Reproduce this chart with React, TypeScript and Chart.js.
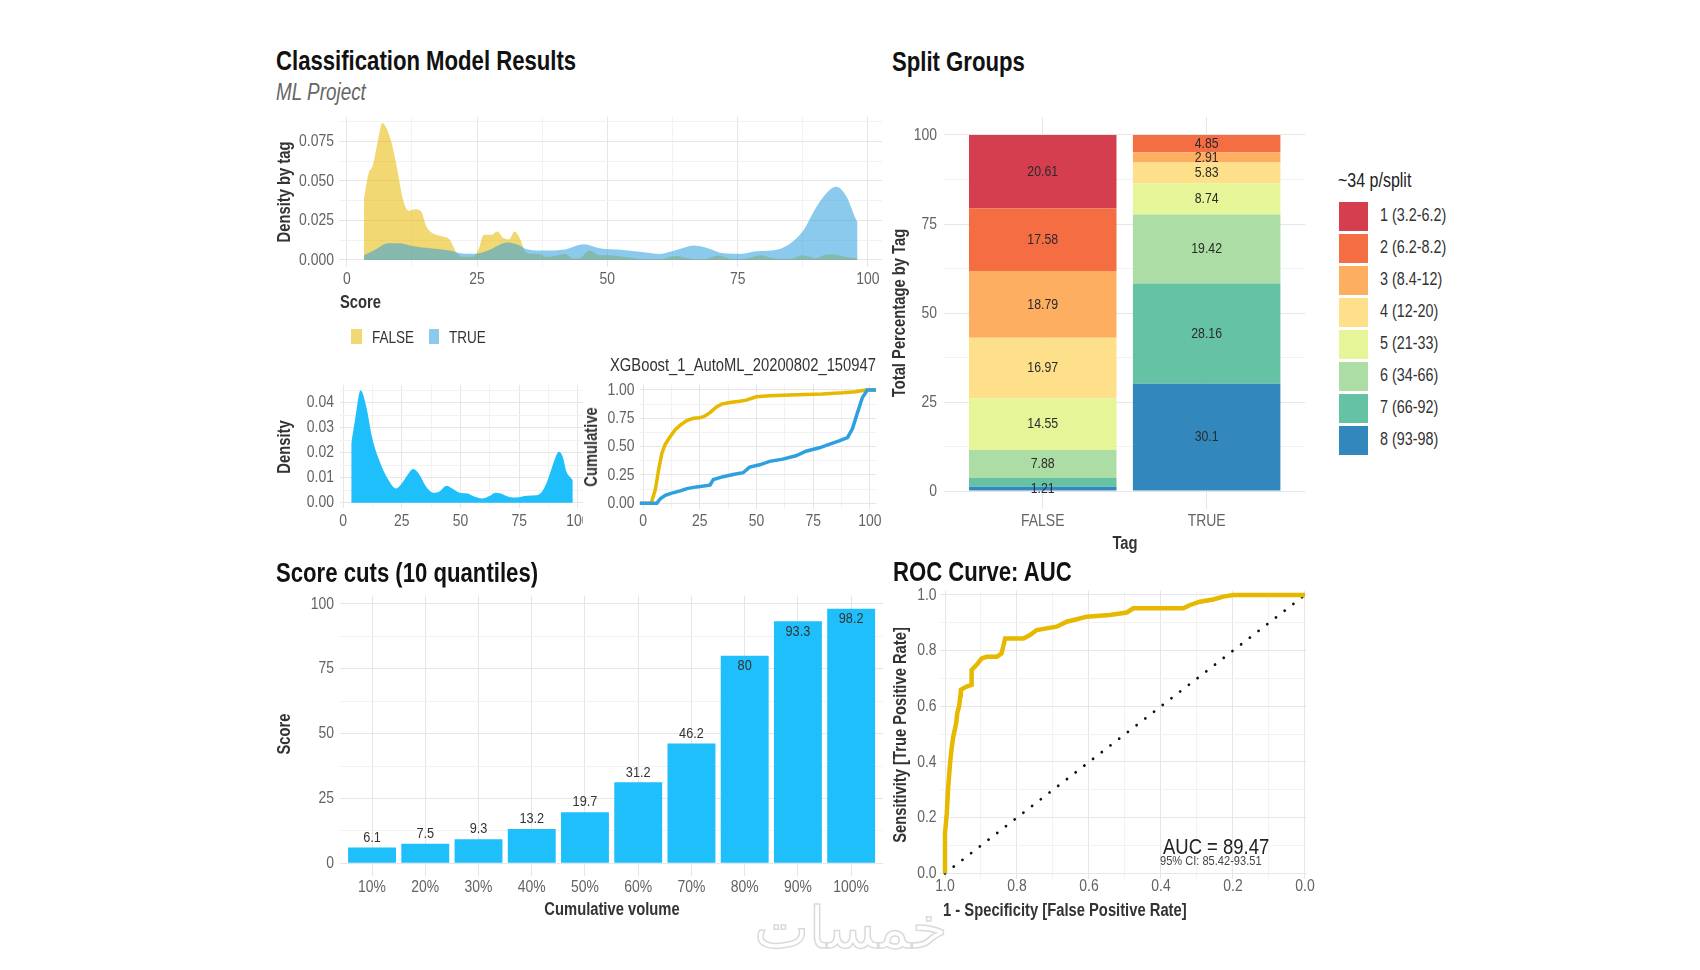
import React, { useEffect, useRef } from 'react';
import { Chart, registerables } from 'chart.js';

Chart.register(...registerables);

// Arial-metric font, horizontally condensed to mimic "Arial Narrow"
const FONT = "'Liberation Sans', Arial, sans-serif";
const SQ = 0.82;
const TICK_COLOR = '#636363';
const TICK_SIZE = 17;
const AXIS_TITLE = '#333333';
const GRID_MAJOR = '#e6e6e6';
const GRID_MINOR = '#f2f2f2';

// ---------- data ----------
const densityFalseX = [3.3, 4.2, 4.9, 6.0, 6.8, 7.5, 8.6, 9.7, 10.8, 11.9, 13.1, 14.2, 15.3, 16.4, 18.2, 19.7, 21.2, 22.6, 24.1, 25.2, 26.3, 27.8, 28.9, 30.0, 31.1, 32.2, 33.3, 34.1, 35.2, 36.6, 38.5, 40.5, 41.8, 43.5, 44.5, 46.6, 48.5, 50.5, 53, 56, 60, 63.2, 66, 68.5, 71.3, 74, 76.5, 79.4, 82.4, 85, 87.5, 90, 91.5, 93.3, 95.5, 98];
const densityFalseY = [0.039, 0.055, 0.059, 0.076, 0.0866, 0.084, 0.074, 0.057, 0.038, 0.031, 0.032, 0.031, 0.021, 0.017, 0.015, 0.013, 0.004, 0.002, 0.002, 0.006, 0.016, 0.016, 0.018, 0.014, 0.013, 0.018, 0.013, 0.006, 0.004, 0.004, 0.002, 0.003, 0.004, 0.001, 0.001, 0.006, 0.003, 0.003, 0.002, 0.0008, 0.0005, 0.0025, 0.0008, 0.0005, 0.0028, 0.0006, 0.0008, 0.003, 0.0008, 0.0008, 0.003, 0.001, 0.003, 0.0034, 0.002, 0.001];
const densityTrueX = [3.3, 5.7, 7.9, 10.1, 12.3, 16, 19.7, 22.6, 24.9, 27.1, 30.8, 33, 34.4, 38.1, 41.8, 45.5, 48.5, 52.6, 57, 60, 63.4, 66.6, 69.1, 72.3, 75.5, 78.7, 82.5, 85, 87.6, 90.1, 92.6, 93.9, 95.9, 97.8, 98];
const densityTrueY = [0.003, 0.007, 0.0105, 0.0105, 0.009, 0.0074, 0.006, 0.004, 0.004, 0.006, 0.011, 0.0095, 0.007, 0.006, 0.0067, 0.010, 0.0074, 0.0064, 0.0049, 0.0038, 0.0064, 0.0091, 0.0076, 0.0042, 0.0038, 0.0055, 0.0064, 0.0102, 0.0186, 0.0335, 0.044, 0.0462, 0.040, 0.025, 0.024];
const densityAllX = [3.5, 5.1, 7.5, 9.9, 12.3, 15.4, 19.4, 22.6, 25, 27.4, 29.8, 32.2, 35.4, 38.5, 40.9, 44.1, 46.5, 49.7, 52.9, 56.1, 59.2, 62.4, 64.8, 67.2, 70.4, 73.6, 78.3, 82.3, 84.7, 87.1, 89.5, 91.9, 93.5, 95.1, 96.5, 97.8];
const densityAllY = [0.0237, 0.033, 0.045, 0.0384, 0.0264, 0.017, 0.009, 0.0057, 0.0077, 0.011, 0.0135, 0.0117, 0.0064, 0.004, 0.0044, 0.0068, 0.0057, 0.004, 0.0037, 0.0024, 0.0017, 0.0027, 0.004, 0.0037, 0.0024, 0.0021, 0.0028, 0.003, 0.0044, 0.009, 0.0157, 0.0204, 0.0184, 0.0124, 0.0104, 0.009];

const cumFalseX = [-1.5, 3.2, 3.9, 5.4, 6.1, 6.9, 8.3, 9.8, 12, 14.2, 16.4, 19.3, 22.2, 25.1, 27.3, 29.5, 32.4, 34.6, 38.2, 42.6, 45.5, 49.9, 55.8, 64.5, 71.8, 79.1, 87.9, 93.7, 98.1, 102.7];
const cumFalseY = [0, 0, 0.02, 0.12, 0.2, 0.3, 0.44, 0.52, 0.59, 0.65, 0.69, 0.73, 0.75, 0.755, 0.77, 0.80, 0.85, 0.875, 0.89, 0.90, 0.91, 0.94, 0.95, 0.955, 0.96, 0.965, 0.975, 0.985, 1.0, 1.0];
const cumTrueX = [-1.5, 6.1, 7.6, 9.8, 12.7, 16.4, 19.3, 23.6, 29.5, 31, 35.3, 39.7, 44.1, 47, 51.4, 55.8, 61.6, 67.4, 71.8, 77.7, 82, 86.4, 90.1, 92.3, 94.5, 96.6, 98.8, 102.7];
const cumTrueY = [0, 0, 0.04, 0.07, 0.09, 0.11, 0.13, 0.145, 0.16, 0.21, 0.235, 0.255, 0.27, 0.32, 0.34, 0.37, 0.39, 0.42, 0.46, 0.49, 0.52, 0.55, 0.58, 0.66, 0.8, 0.93, 1.0, 1.0];

const splitTags = ['FALSE', 'TRUE'];
const splitGroups = ['1 (3.2-6.2)', '2 (6.2-8.2)', '3 (8.4-12)', '4 (12-20)', '5 (21-33)', '6 (34-66)', '7 (66-92)', '8 (93-98)'];
const splitColors = ['#D53E4F', '#F46D43', '#FDAE61', '#FEE08B', '#E6F598', '#ABDDA4', '#66C2A5', '#3288BD'];
const splitFalse = [20.61, 17.58, 18.79, 16.97, 14.55, 7.88, 2.41, 1.21];
const splitTrue = [0, 4.85, 2.91, 5.83, 8.74, 19.42, 28.16, 30.1];
const splitFalseShown = [true, true, true, true, true, true, false, true];
const splitTrueShown = [false, true, true, true, true, true, true, true];

const cutLabels = ['10%', '20%', '30%', '40%', '50%', '60%', '70%', '80%', '90%', '100%'];
const cutScores = [6.1, 7.5, 9.3, 13.2, 19.7, 31.2, 46.2, 80, 93.3, 98.2];

const rocSpecificity = [1.0, 1.0, 0.995, 0.991, 0.986, 0.981, 0.977, 0.969, 0.966, 0.961, 0.957, 0.956, 0.94, 0.926, 0.926, 0.912, 0.898, 0.884, 0.856, 0.843, 0.833, 0.782, 0.764, 0.745, 0.718, 0.69, 0.662, 0.634, 0.606, 0.542, 0.495, 0.477, 0.338, 0.319, 0.292, 0.255, 0.227, 0.199, 0.0];
const rocSensitivity = [0.0, 0.144, 0.216, 0.311, 0.395, 0.455, 0.491, 0.539, 0.575, 0.599, 0.641, 0.659, 0.671, 0.677, 0.731, 0.749, 0.772, 0.778, 0.778, 0.79, 0.844, 0.844, 0.856, 0.874, 0.88, 0.886, 0.904, 0.913, 0.922, 0.928, 0.937, 0.952, 0.952, 0.964, 0.976, 0.984, 0.994, 1.0, 1.0];

const scoreTicks = [0, 25, 50, 75, 100];
const scoreMinor = [12.5, 37.5, 62.5, 87.5];
const unitTicks = [0, 0.25, 0.5, 0.75, 1];
const unitMinor = [0.125, 0.375, 0.625, 0.875];
const rocTicks = [0, 0.2, 0.4, 0.6, 0.8, 1];
const rocMinor = [0.1, 0.3, 0.5, 0.7, 0.9];

// ---------- helpers ----------
const pts = (xs: number[], ys: number[]) => xs.map((x, i) => ({ x, y: ys[i] }));

function sqText(ctx: any, text: string, x: number, y: number, align: string, baseline: string) {
  ctx.save();
  ctx.translate(x, y);
  ctx.scale(SQ, 1);
  ctx.textAlign = align;
  ctx.textBaseline = baseline;
  ctx.fillText(text, 0, 0);
  ctx.restore();
}

type AxisSpec = {
  min: number; max: number; major: number[]; minor: number[];
  label: (v: number) => string; size: number; pad: number; reverse?: boolean; stacked?: boolean;
};

function axis(dir: 'x' | 'y', s: AxisSpec): any {
  const all = [...s.major, ...s.minor].sort((a, b) => a - b);
  const o: any = {
    type: 'linear',
    min: s.min,
    max: s.max,
    reverse: !!s.reverse,
    bounds: 'data',
    offset: false,
    afterBuildTicks: (sc: any) => { sc.ticks = all.map((v) => ({ value: v })); },
    afterFit: (sc: any) => { if (dir === 'y') sc.width = s.size; else sc.height = s.size; },
    grid: {
      drawTicks: false,
      offset: false,
      lineWidth: 1,
      color: (c: any) => (c.tick && s.major.includes(c.tick.value) ? GRID_MAJOR : GRID_MINOR),
    },
    border: { display: false },
    ticks: { display: false, autoSkip: false, maxRotation: 0 },
  };
  if (s.stacked) o.stacked = true;
  return o;
}

// draws condensed tick labels: x labels centred at bottom + pad, y labels right-aligned at left - pad
function tickPlugin(xs: AxisSpec, ys: AxisSpec) {
  return {
    id: 'sqTicks',
    afterDraw(chart: any) {
      const ctx = chart.ctx;
      const a = chart.chartArea;
      ctx.save();
      ctx.font = `${TICK_SIZE}px ${FONT}`;
      ctx.fillStyle = TICK_COLOR;
      xs.major.forEach((v) => sqText(ctx, xs.label(v), chart.scales.x.getPixelForValue(v), a.bottom + xs.pad, 'center', 'middle'));
      ys.major.forEach((v) => sqText(ctx, ys.label(v), a.left - ys.pad, chart.scales.y.getPixelForValue(v), 'right', 'middle'));
      ctx.restore();
    },
  };
}

function baseOptions(padding: any, scales: any) {
  return {
    responsive: false,
    animation: false,
    events: [],
    layout: { padding, autoPadding: false },
    plugins: { legend: { display: false }, tooltip: { enabled: false }, title: { display: false } },
    scales,
  };
}

function buildConfig(type: string, datasets: any[], padding: any, xs: AxisSpec, ys: AxisSpec, extraPlugins: any[] = []) {
  return {
    type,
    data: { datasets },
    options: baseOptions(padding, { x: axis('x', xs), y: axis('y', ys) }),
    plugins: [tickPlugin(xs, ys), ...extraPlugins],
  };
}

type Box = { x: number; y: number; w: number; h: number };
type Area = { L: number; T: number; R: number; B: number };

function ChartPanel({ box, area, yW, xH, clipW, make }: { box: Box; area: Area; yW: number; xH: number; clipW?: number; make: (p: any) => any }) {
  const ref = useRef<HTMLCanvasElement>(null);
  useEffect(() => {
    const padding = {
      left: area.L - box.x - yW,
      top: area.T - box.y,
      right: box.x + box.w - area.R,
      bottom: box.y + box.h - area.B - xH,
    };
    const chart = new Chart(ref.current as HTMLCanvasElement, make(padding));
    return () => chart.destroy();
  }, []);
  return (
    <div style={{ position: 'absolute', left: box.x, top: box.y, width: clipW ?? box.w, height: box.h, overflow: 'hidden' }}>
      <canvas ref={ref} width={box.w} height={box.h} style={{ width: box.w, height: box.h, display: 'block' }} />
    </div>
  );
}

function Txt({ x, y, s, children, bold, italic, color, anchor, rotate, family, extra, squeeze }: any) {
  const k = squeeze === false ? 1 : SQ;
  let transform = '';
  let origin = '50% 50%';
  if (rotate) transform = `translate(-50%,-50%) rotate(-90deg) scaleX(${k})`;
  else if (anchor === 'middle') transform = `translate(-50%,-50%) scaleX(${k})`;
  else { transform = `translateY(-50%) scaleX(${k})`; origin = '0 50%'; }
  return (
    <div
      style={{
        position: 'absolute', left: x, top: y, fontFamily: family || FONT, fontSize: s, lineHeight: 1,
        fontWeight: bold ? 700 : 400, fontStyle: italic ? 'italic' : 'normal', color: color || '#222',
        whiteSpace: 'nowrap', transform, transformOrigin: origin,
        ...(extra || {}),
      }}
    >
      {children}
    </div>
  );
}

// ---------- value label plugins ----------
const splitLabelPlugin = {
  id: 'splitLabels',
  afterDatasetsDraw(chart: any) {
    const ctx = chart.ctx;
    ctx.save();
    ctx.font = `15px ${FONT}`;
    ctx.fillStyle = '#2b2b2b';
    chart.data.datasets.forEach((ds: any, di: number) => {
      const meta = chart.getDatasetMeta(di);
      meta.data.forEach((bar: any, j: number) => {
        const v = ds.data[j].y;
        if (!(v > 0) || !ds.shown[j]) return;
        sqText(ctx, String(v), bar.x, (bar.y + bar.base) / 2, 'center', 'middle');
      });
    });
    ctx.restore();
  },
};

const cutLabelPlugin = {
  id: 'cutLabels',
  afterDatasetsDraw(chart: any) {
    const ctx = chart.ctx;
    const meta = chart.getDatasetMeta(0);
    ctx.save();
    ctx.font = `15.5px ${FONT}`;
    ctx.fillStyle = '#333';
    meta.data.forEach((bar: any, i: number) => {
      const v = cutScores[i];
      sqText(ctx, String(v), bar.x, v > 75 ? bar.y + 10 : bar.y - 10, 'center', 'middle');
    });
    ctx.restore();
  },
};

// ---------- chart configs ----------
const GOLD = '#E7B800';
const BLUE = '#2E9FDF';
const SKY = '#1FBFFB';
const GOLD_FILL = 'rgba(231,184,0,0.55)';
const BLUE_FILL = 'rgba(46,159,223,0.55)';
const NONE = 'rgba(0,0,0,0)';

const makeDensityTop = (p: any) => buildConfig('line', [
  { data: pts(densityTrueX, densityTrueY), fill: 'origin', backgroundColor: BLUE_FILL, borderColor: NONE, borderWidth: 0, pointRadius: 0, cubicInterpolationMode: 'monotone' },
  { data: pts(densityFalseX, densityFalseY), fill: 'origin', backgroundColor: GOLD_FILL, borderColor: NONE, borderWidth: 0, pointRadius: 0, cubicInterpolationMode: 'monotone' },
], p,
  { min: -1.5, max: 102.7, major: scoreTicks, minor: scoreMinor, label: (v) => String(v), size: 26, pad: 12.2 },
  { min: -0.0043, max: 0.0905, major: [0, 0.025, 0.05, 0.075], minor: [0.0125, 0.0375, 0.0625, 0.0875], label: (v) => v.toFixed(3), size: 50, pad: 5 });

const makeDensityAll = (p: any) => buildConfig('line', [
  { data: pts(densityAllX, densityAllY), fill: 'origin', backgroundColor: SKY, borderColor: NONE, borderWidth: 0, pointRadius: 0, cubicInterpolationMode: 'monotone' },
], p,
  { min: -1.5, max: 102.7, major: scoreTicks, minor: scoreMinor, label: (v) => String(v), size: 26, pad: 13.4 },
  { min: -0.00225, max: 0.0473, major: [0, 0.01, 0.02, 0.03, 0.04], minor: [0.005, 0.015, 0.025, 0.035, 0.045], label: (v) => v.toFixed(2), size: 44, pad: 5.5 });

const makeCumulative = (p: any) => buildConfig('line', [
  { data: pts(cumTrueX, cumTrueY), borderColor: BLUE, borderWidth: 3.5, pointRadius: 0, fill: false, tension: 0 },
  { data: pts(cumFalseX, cumFalseY), borderColor: GOLD, borderWidth: 3.5, pointRadius: 0, fill: false, tension: 0 },
], p,
  { min: -1.5, max: 102.7, major: scoreTicks, minor: scoreMinor, label: (v) => String(v), size: 26, pad: 12.7 },
  { min: -0.05, max: 1.05, major: unitTicks, minor: unitMinor, label: (v) => v.toFixed(2), size: 40, pad: 5 });

const makeSplit = (p: any) => buildConfig('bar',
  splitGroups.map((g, i) => ({
    label: g,
    data: [{ x: 1, y: splitFalse[i] }, { x: 2, y: splitTrue[i] }],
    shown: [splitFalseShown[i], splitTrueShown[i]],
    backgroundColor: splitColors[i],
    borderWidth: 0,
    stack: 'tag',
    barPercentage: 0.9,
    categoryPercentage: 1,
  })).reverse(),
  p,
  { min: 0.4, max: 2.6, major: [1, 2], minor: [], label: (v) => splitTags[v - 1], size: 28, pad: 12.2 },
  { min: -5, max: 105, major: scoreTicks, minor: scoreMinor, label: (v) => String(v), size: 40, pad: 7.5, stacked: true },
  [splitLabelPlugin]);

const makeCuts = (p: any) => buildConfig('bar', [
  {
    data: cutScores.map((v, i) => ({ x: i + 1, y: v })),
    backgroundColor: SKY,
    borderWidth: 0,
    barPercentage: 0.9,
    categoryPercentage: 1,
  },
], p,
  { min: 0.4, max: 10.6, major: cutLabels.map((_, i) => i + 1), minor: [], label: (v) => cutLabels[v - 1], size: 26, pad: 11 },
  { min: -4.91, max: 103.11, major: scoreTicks, minor: scoreMinor, label: (v) => String(v), size: 40, pad: 6 },
  [cutLabelPlugin]);

const makeRoc = (p: any) => buildConfig('line', [
  { data: pts(rocSpecificity, rocSensitivity), borderColor: GOLD, borderWidth: 4.5, pointRadius: 0, fill: false, tension: 0 },
  { data: pts(rocSpecificity, rocSensitivity), borderColor: '#00BFFF', borderWidth: 2, pointRadius: 0, fill: false, tension: 0 },
  { data: [{ x: 1, y: 0 }, { x: 0, y: 1 }], borderColor: '#111', borderWidth: 2.8, borderDash: [0.01, 11], borderCapStyle: 'round', pointRadius: 0, fill: false },
], p,
  { min: -0.005, max: 1.015, reverse: true, major: rocTicks, minor: rocMinor, label: (v) => v.toFixed(1), size: 26, pad: 7.8 },
  { min: -0.02, max: 1.015, major: rocTicks, minor: rocMinor, label: (v) => v.toFixed(1), size: 34, pad: 3 });

// ---------- app ----------
export default function App() {
  const legendTop = 201.7;
  return (
    <div style={{ position: 'absolute', left: 0, top: 0, width: 1700, height: 970, background: '#fff', overflow: 'hidden' }}>
      <ChartPanel box={{ x: 280, y: 105, w: 620, h: 200 }} area={{ L: 339, T: 116.7, R: 882, B: 266.8 }} yW={50} xH={26} make={makeDensityTop} />
      <ChartPanel box={{ x: 280, y: 375, w: 330, h: 160 }} clipW={303} area={{ L: 339.5, T: 384.5, R: 584.3, B: 508.3 }} yW={44} xH={26} make={makeDensityAll} />
      <ChartPanel box={{ x: 592, y: 375, w: 308, h: 160 }} area={{ L: 639.6, T: 384.3, R: 876.1, B: 509 }} yW={40} xH={26} make={makeCumulative} />
      <ChartPanel box={{ x: 900, y: 105, w: 420, h: 440 }} area={{ L: 944.4, T: 117.2, R: 1305, B: 508.8 }} yW={40} xH={28} make={makeSplit} />
      <ChartPanel box={{ x: 290, y: 585, w: 610, h: 320 }} area={{ L: 340.1, T: 595.9, R: 883.1, B: 876 }} yW={40} xH={26} make={makeCuts} />
      <ChartPanel box={{ x: 902, y: 580, w: 418, h: 330 }} area={{ L: 939.6, T: 590.8, R: 1306.8, B: 878.9 }} yW={34} xH={26} make={makeRoc} />

      {/* Top-left block */}
      <Txt x={276} y={61} s={27} bold color="#111">Classification Model Results</Txt>
      <Txt x={276} y={92} s={23} italic color="#666">ML Project</Txt>
      <Txt x={284} y={192} s={18} bold rotate color={AXIS_TITLE}>Density by tag</Txt>
      <Txt x={340} y={301.7} s={18} bold color={AXIS_TITLE}>Score</Txt>
      <div style={{ position: 'absolute', left: 351, top: 329.3, width: 10.7, height: 14.7, background: GOLD_FILL }} />
      <Txt x={372} y={336.7} s={16.5} color="#333">FALSE</Txt>
      <div style={{ position: 'absolute', left: 428.7, top: 329.3, width: 10.7, height: 14.7, background: BLUE_FILL }} />
      <Txt x={448.6} y={336.7} s={16.5} color="#333">TRUE</Txt>
      <Txt x={284} y={447} s={18} bold rotate color={AXIS_TITLE}>Density</Txt>
      <Txt x={591} y={447} s={18} bold rotate color={AXIS_TITLE}>Cumulative</Txt>
      <Txt x={610} y={365} s={18} color="#333">XGBoost_1_AutoML_20200802_150947</Txt>

      {/* Split groups */}
      <Txt x={891.5} y={61.7} s={27} bold color="#111">Split Groups</Txt>
      <Txt x={899} y={313} s={18} bold rotate color={AXIS_TITLE}>Total Percentage by Tag</Txt>
      <Txt x={1124.5} y={543.3} s={18} bold anchor="middle" color={AXIS_TITLE}>Tag</Txt>
      <Txt x={1338} y={180.7} s={19.5} color="#222">~34 p/split</Txt>
      {splitGroups.map((g, i) => (
        <React.Fragment key={g}>
          <div style={{ position: 'absolute', left: 1339, top: legendTop + 32 * i, width: 29, height: 29, background: splitColors[i] }} />
          <Txt x={1380} y={legendTop + 32 * i + 14.5} s={17.5} color="#333">{g}</Txt>
        </React.Fragment>
      ))}

      {/* Score cuts */}
      <Txt x={276} y={573.3} s={27} bold color="#111">Score cuts (10 quantiles)</Txt>
      <Txt x={284} y={734} s={18} bold rotate color={AXIS_TITLE}>Score</Txt>
      <Txt x={611.5} y={909} s={18} bold anchor="middle" color={AXIS_TITLE}>Cumulative volume</Txt>

      {/* ROC */}
      <Txt x={892.7} y={572} s={27} bold color="#111">ROC Curve: AUC</Txt>
      <Txt x={900} y={734.7} s={18} bold rotate color={AXIS_TITLE}>Sensitivity [True Positive Rate]</Txt>
      <Txt x={943} y={910} s={18} bold color={AXIS_TITLE}>1 - Specificity [False Positive Rate]</Txt>
      <Txt x={1163} y={846.7} s={22.5} color="#222">AUC = 89.47</Txt>
      <Txt x={1160} y={861} s={13.5} color="#444">95% CI: 85.42-93.51</Txt>

      {/* watermark */}
      <Txt x={851} y={928} s={58} anchor="middle" squeeze={false} family="'DejaVu Sans', sans-serif" color="rgba(0,0,0,0)" extra={{ WebkitTextStroke: '1.5px #dadada' }}>خمسات</Txt>
    </div>
  );
}
